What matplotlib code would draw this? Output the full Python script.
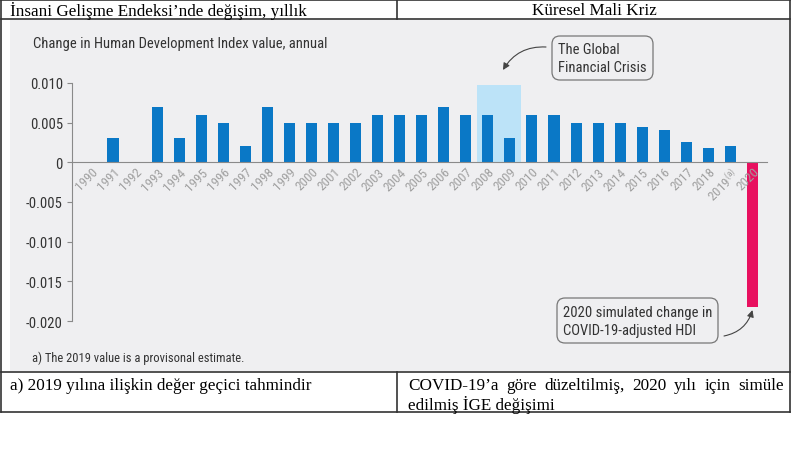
import numpy as np
import matplotlib
matplotlib.use('Agg')
import matplotlib.pyplot as plt
from matplotlib.patches import Rectangle, FancyBboxPatch

# chart data
years = list(range(1990, 2021))
hdi_change = [0, 0.003, 0, 0.007, 0.003, 0.006, 0.005, 0.002, 0.007, 0.005,
              0.005, 0.005, 0.005, 0.006, 0.006, 0.006, 0.007, 0.006, 0.006, 0.003,
              0.006, 0.006, 0.005, 0.005, 0.005, 0.0044, 0.0041, 0.0026, 0.0018, 0.0021,
              -0.0182]
year_labels = [str(y) for y in years]
year_labels[-2] = '2019$^{(a)}$'
crisis_span = (2007.5, 2009.5)
crisis_top = 0.00975
y_ticks = [-0.020, -0.015, -0.010, -0.005, 0, 0.005, 0.010]
y_labels = ['-0.020', '-0.015', '-0.010', '-0.005', '0', '0.005', '0.010']

title = 'Change in Human Development Index value, annual'
note = 'a) The 2019 value is a provisonal estimate.'
gfc_text = 'The Global\nFinancial Crisis'
covid_text = '2020 simulated change in\nCOVID-19-adjusted HDI'
head_left = 'İnsani Gelişme Endeksi’nde değişim, yıllık'
head_right = 'Küresel Mali Kriz'
foot_left = 'a) 2019 yılına ilişkin değer geçici tahmindir'
foot_right_1 = 'COVID-19’a göre düzeltilmiş, 2020 yılı için simüle'
foot_right_2 = 'edilmiş İGE değişimi'

sans = ['Roboto Condensed', 'DejaVu Sans']
serif = ['Liberation Serif', 'DejaVu Serif']
plt.rcParams['font.family'] = sans
plt.rcParams['mathtext.default'] = 'regular'
plt.rcParams['mathtext.fontset'] = 'custom'
plt.rcParams['mathtext.rm'] = 'Roboto Condensed'

blue = '#0a78c6'
pink = '#e8105f'
bg_gray = '#efeff1'
dark = '#333333'
serif_size = 12.3

fig = plt.figure(figsize=(8, 4.6), dpi=100)

# background layer in pixel coordinates
bg = fig.add_axes([0, 0, 1, 1])
bg.set_xlim(0, 800)
bg.set_ylim(460, 0)
bg.axis('off')
bg.add_patch(Rectangle((10, 21), 779, 351, color=bg_gray, lw=0))
for yy in (1, 20, 373, 413):
    bg.plot([1, 790], [yy, yy], color=dark, lw=1.2)
for xx in (1, 790):
    bg.plot([xx, xx], [1, 413], color=dark, lw=1.2)
bg.plot([397, 397], [1, 20], color=dark, lw=1.2)
bg.plot([397, 397], [373, 413], color=dark, lw=1.2)

bg.text(10, 11, head_left, family=serif, size=serif_size, va='center', color='black')
bg.text(594, 11, head_right, family=serif, size=serif_size, va='center', ha='center', color='black')
bg.text(10, 386, foot_left, family=serif, size=serif_size, va='center', color='black')

bg.text(33, 44, title, size=10.5, color=dark, va='center')
bg.text(32, 358, note, size=9, color=dark, va='center')

# annotation boxes
bg.add_patch(FancyBboxPatch((552, 37), 101, 44, boxstyle='round,pad=0,rounding_size=8',
                            fc='none', ec='#777777', lw=0.9))
bg.text(558, 59, gfc_text, size=10.5, color=dark, va='center', linespacing=1.3)
bg.annotate('', xy=(503, 71), xytext=(546, 48),
            arrowprops=dict(arrowstyle='-|>,head_length=0.4,head_width=0.2', color='#444444',
                            lw=0.8, connectionstyle='arc3,rad=0.3', shrinkA=0, shrinkB=0))

bg.add_patch(FancyBboxPatch((557, 299), 161, 45, boxstyle='round,pad=0,rounding_size=8',
                            fc='none', ec='#777777', lw=0.9))
bg.text(563, 322, covid_text, size=10.5, color=dark, va='center', linespacing=1.3)

# chart
ax = fig.add_axes([72 / 800, (460 - 323) / 460, 695 / 800, 240 / 460])
ax.patch.set_visible(False)
ax.set_axisbelow(False)
ax.add_patch(Rectangle((crisis_span[0], 0), crisis_span[1] - crisis_span[0], crisis_top,
                       color='#bce3f8', lw=0, zorder=1))
colors = [blue] * (len(years) - 1) + [pink]
ax.bar(years, hdi_change, width=0.5, color=colors, zorder=2)
ax.set_xlim(1989.14, 2020.66)
ax.set_ylim(-0.0201, 0.0101)
ax.spines['top'].set_visible(False)
ax.spines['right'].set_visible(False)
ax.spines['bottom'].set_position(('data', 0))
ax.spines['bottom'].set_color('#8a8a8a')
ax.spines['left'].set_color('#8a8a8a')
ax.spines['left'].set_bounds(-0.020, 0.010)
ax.set_yticks(y_ticks)
ax.set_yticklabels(y_labels)
ax.tick_params(axis='y', direction='out', length=3.6, width=0.8, color='#8a8a8a',
               labelcolor=dark, labelsize=10.5, pad=3)
ax.set_xticks(years)
ax.set_xticklabels(year_labels, rotation=45, ha='right', va='top', rotation_mode='anchor')
ax.tick_params(axis='x', length=0, labelcolor='#a0a0a0', labelsize=9.5, pad=2)

bg.annotate('', xy=(2020, hdi_change[-1] - 0.0004), xycoords=ax.transData,
            xytext=(724, 337), textcoords='data',
            arrowprops=dict(arrowstyle='-|>,head_length=0.4,head_width=0.2', color='#444444',
                            lw=0.8, connectionstyle='arc3,rad=0.3', shrinkA=0, shrinkB=0))

# justified first line of the right footer cell
fig.canvas.draw()
renderer = fig.canvas.get_renderer()
words = foot_right_1.split()
objs = [bg.text(0, 386, w, family=serif, size=serif_size, va='center', color='black')
        for w in words]
widths = [o.get_window_extent(renderer).width for o in objs]
x_left, x_right = 408, 784
gap = (x_right - x_left - sum(widths)) / (len(words) - 1)
xpos = x_left
for o, w in zip(objs, widths):
    o.set_x(xpos)
    xpos += w + gap
bg.text(x_left, 405, foot_right_2, family=serif, size=serif_size, va='center', color='black')

fig.savefig('out.png', dpi=100)
